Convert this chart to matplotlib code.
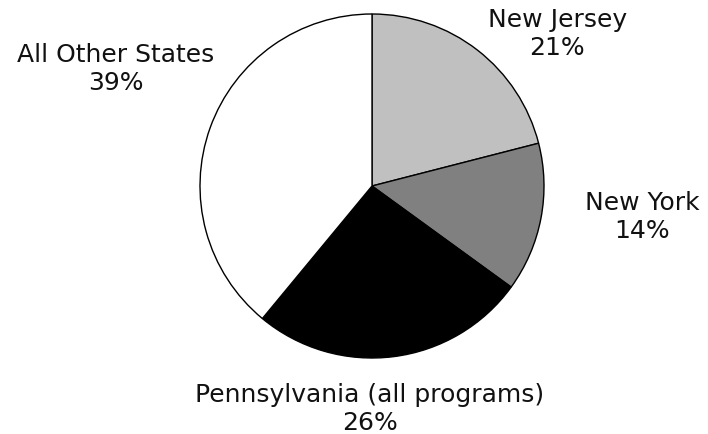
import matplotlib
matplotlib.use("Agg")
import matplotlib.pyplot as plt

categories = ["New Jersey", "New York", "Pennsylvania (all programs)", "All Other States"]
shares = [21, 14, 26, 39]
colors = ["#c0c0c0", "#808080", "#000000", "#ffffff"]
# label anchor (centre x, baseline of last line) in pie-radius units
label_pos = [(1.076, 0.767), (1.570, -0.297), (-0.012, -1.413), (-1.491, 0.564)]

fig = plt.figure(figsize=(7.08, 4.35), dpi=100)
ax = fig.add_axes([0, 0, 1, 1])
ax.pie(shares, colors=colors, startangle=90, counterclock=False, radius=1,
       wedgeprops=dict(edgecolor="black", linewidth=1))
for cat, val, (x, y) in zip(categories, shares, label_pos):
    ax.text(x, y, f"{cat}\n{val}%", ha="center", va="baseline", fontsize=18,
            family="DejaVu Sans", linespacing=1.22, color="#111111",
            multialignment="center")
ax.set_xlim(-372/172, (708-372)/172)
ax.set_ylim(-248/172, 187/172)
ax.set_aspect("auto")
ax.axis("off")
fig.savefig("out.png", dpi=100)
